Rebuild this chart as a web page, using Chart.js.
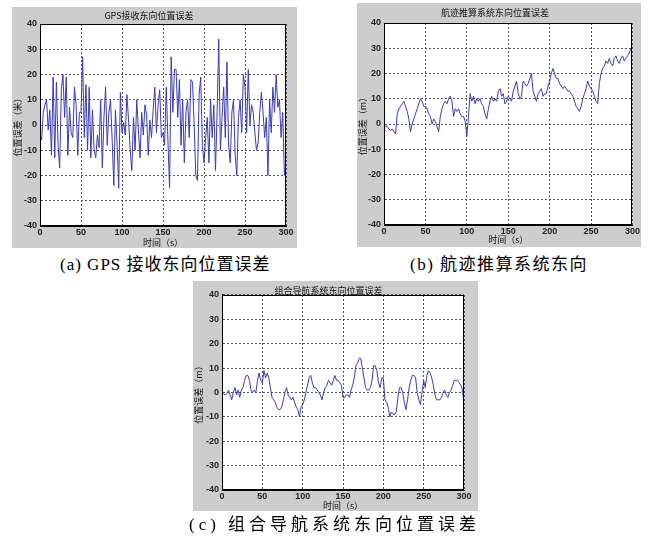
<!DOCTYPE html>
<html>
<head>
<meta charset="utf-8">
<script src="https://cdn.jsdelivr.net/npm/chart.js@4.4.0/dist/chart.umd.min.js"></script>
<style>
  body { margin: 0; background: #fff; width: 656px; height: 537px; position: relative; overflow: hidden; }
  .panel { position: absolute; background: #cdcdcd; }
  .panel canvas { position: absolute; left: 0; top: 0; }
  .cap { position: absolute; font-family: "Liberation Serif", "Noto Sans CJK SC", serif; font-size: 17px; color: #000; white-space: nowrap; }
</style>
</head>
<body>
<div class="panel" style="left:12px;top:7px;width:285px;height:241px"><canvas id="chartA" width="285" height="241"></canvas></div>
<div class="panel" style="left:357px;top:3px;width:284px;height:244px"><canvas id="chartB" width="284" height="244"></canvas></div>
<div class="panel" style="left:193px;top:281px;width:285px;height:230px"><canvas id="chartC" width="285" height="230"></canvas></div>
<div class="cap" style="left:60px;top:250px;letter-spacing:1px">(a) GPS 接收东向位置误差</div>
<div class="cap" style="left:410px;top:250px;letter-spacing:1.5px">(b) 航迹推算系统东向</div>
<div class="cap" style="left:189px;top:510px;letter-spacing:4px">(c) 组合导航系统东向位置误差</div>

<script>
// sample times (s)
const timeSec = [0, 2, 4, 6, 8, 10, 12, 14, 16, 18, 20, 22, 24, 26, 28, 30, 32, 34, 36, 38, 40, 42, 44, 46, 48,
  50, 52, 54, 56, 58, 60, 62, 64, 66, 68, 70, 72, 74, 76, 78, 80, 82, 84, 86, 88, 90, 92, 94, 96, 98,
  100, 102, 104, 106, 108, 110, 112, 114, 116, 118, 120, 122, 124, 126, 128, 130, 132, 134, 136, 138, 140, 142, 144, 146, 148,
  150, 152, 154, 156, 158, 160, 162, 164, 166, 168, 170, 172, 174, 176, 178, 180, 182, 184, 186, 188, 190, 192, 194, 196, 198,
  200, 202, 204, 206, 208, 210, 212, 214, 216, 218, 220, 222, 224, 226, 228, 230, 232, 234, 236, 238, 240, 242, 244, 246, 248,
  250, 252, 254, 256, 258, 260, 262, 264, 266, 268, 270, 272, 274, 276, 278, 280, 282, 284, 286, 288, 290, 292, 294, 296, 298, 300];

// (a) GPS east position error
const gpsErr = [-3, -6, 5, 8, 10, -2, 6, -12, 19, -13, 17, -8, -17, 14, 20, 3, 19, -12, 7, -3, -5, 15, 8, -12, 5,
  5, 27, -5, 16, -10, 15, -13, 6, -10, -13, -4, -9, 10, -17, 3, 15, -8, 5, 10, -6, -24, 6, -8, -25, 13,
  -3, 1, -4, 12, 2, -10, -18, 3, -10, 10, -2, -13, 5, -4, 8, 4, -12, 2, -5, 6, 15, -3, 8, 14, -5,
  -3, -8, 15, -6, -25, 27, 5, 22, 22, 3, 18, -8, 10, -15, 5, 10, -5, 18, 17, 0, -20, -22, 12, 19, -8,
  -15, -5, 3, -15, 10, -5, 8, -18, 5, 34, -10, 3, 15, -5, 25, -8, -15, 5, 10, -12, -20, 3, 10, -3, 20,
  15, -3, 22, 0, 8, 5, -3, -10, -7, 5, 13, 5, -5, 3, -20, 10, -3, 15, 5, 20, 7, 10, -5, 5, -20, -15];

// (b) dead reckoning east position error
const drErr = [0, -1, -1, -2, -2.5, -2, -3, -4, 4, 6, 7, 8, 9, 7, 5, 2, -3, 0, 2, 4, 6, 8, 10, 9, 7,
  7, 6, 4, 3, 0, 2, 1, -1, -3, 3, 6, 8, 9, 8, 10, 11, 9, 3, 6, 5, 6, 4, 3, 3, 1,
  -5, 3, 12, 9, 11, 8, 10, 9, 10, 8, 7, 4, 2, 6, 9, 11, 9, 10, 9, 13, 14, 11, 12, 8, 9,
  11, 10, 9, 13, 15, 17, 12, 10, 11, 17, 16, 15, 16, 18, 20, 13, 11, 9, 12, 13, 14, 11, 12, 12, 15,
  17, 20, 22, 20, 18, 18, 16, 15, 14, 15, 14, 13, 13, 12, 11, 9, 7, 6, 5, 7, 10, 12, 14, 17, 15,
  14, 13, 11, 9, 8, 16, 20, 22, 23, 25, 24, 26, 24, 23, 26, 27, 25, 24, 26, 27, 25, 26, 27, 28, 30, 31];

// (c) integrated navigation east position error
const intErr = [-1, -0.5, -1, -0.5, 1, -1, -3, 0, 2, -1, 1, -2, 1, 2, 5, 7, 7, 5, 1, 0, 1, 0, 5, 8, 5,
  4, 9, 6, 8, 6, 2, -2, -3, -4, -6, -7, -7, -6, -3, 0, 2, -1, -2, -3, -2, -4, -6, -7, -10, -6,
  -5, -3, 0, 3, 6, 7, 4, 2, 2, 1, 0, -1, -3, 0, 2, 3, 5, 4, 3, 5, 7, 5, 5, 4, 3,
  -2, -2, -1, -1, -2, 1, 3, 6, 11, 12, 14, 14, 10, 6, 2, 1, 1, 2, 5, 11, 11, 9, 4, 2, 6,
  6, -3, -4, -6, -10, -8, -9, -9, -8, -2, 2, 2, 0, -4, -7, -3, 2, 5, 7, 7, 6, 0, -3, -5, 0,
  5, 2, 7, 9, 8, 6, 3, -1, -3, -3, -3, -2, 0, 1, -1, -2, 0, 1, 3, 5, 5, 5, 4, 3, 1, -4];

const lineColor = '#3b3bb4';
const gridColor = '#555';

// white plot area + solid black frame, like the matlab axes box
const axesBox = {
  id: 'axesBox',
  beforeDraw(chart) {
    const { ctx, chartArea: a } = chart;
    ctx.save();
    ctx.fillStyle = '#fff';
    ctx.fillRect(a.left, a.top, a.width, a.height);
    ctx.restore();
  },
  afterDraw(chart) {
    const { ctx, chartArea: a } = chart;
    ctx.save();
    ctx.strokeStyle = '#000';
    ctx.lineWidth = 1;
    ctx.strokeRect(Math.round(a.left) + 0.5, Math.round(a.top) + 0.5, Math.round(a.width) - 1, Math.round(a.height) - 1);
    ctx.restore();
  }
};

function makeChart(id, title, yTitle, values, m) {
  const tickFont = { family: 'Liberation Sans', size: 9, weight: 'bold' };
  return new Chart(document.getElementById(id), {
    type: 'line',
    data: {
      datasets: [{
        data: timeSec.map((t, i) => ({ x: t, y: values[i] })),
        borderColor: lineColor,
        borderWidth: 1,
        pointRadius: 0,
        tension: 0
      }]
    },
    options: {
      responsive: false,
      animation: false,
      layout: { padding: { top: 0, right: m.right, left: 0, bottom: 0 } },
      plugins: {
        legend: { display: false },
        tooltip: { enabled: false },
        title: {
          display: true,
          text: title,
          color: '#111',
          font: { family: 'Noto Sans CJK SC', size: 9, weight: 'normal', lineHeight: 1.2 },
          padding: { top: m.titleY - 5.4, bottom: m.top - m.titleY - 5.4 }
        }
      },
      scales: {
        x: {
          type: 'linear', min: 0, max: 300,
          ticks: { stepSize: 50, color: '#222', font: tickFont, padding: 1, maxRotation: 0 },
          grid: { color: gridColor, drawTicks: false },
          border: { color: '#000', dash: [2, 2] },
          title: { display: true, text: '时间（s）', color: '#111', font: { family: 'Noto Sans CJK SC', size: 9 }, padding: { top: 0, bottom: m.xTitlePad } },
          afterFit: s => { s.height = m.bottom; }
        },
        y: {
          min: -40, max: 40,
          ticks: { stepSize: 10, color: '#222', font: tickFont, padding: 3 },
          grid: { color: gridColor, drawTicks: false },
          border: { color: '#000', dash: [2, 2] },
          title: { display: true, text: yTitle, color: '#111', font: { family: 'Noto Sans CJK SC', size: 9 }, padding: 0 },
          afterFit: s => { s.width = m.left; }
        }
      }
    },
    plugins: [axesBox]
  });
}

makeChart('chartA', 'GPS接收东向位置误差', '位置误差（米）', gpsErr,
  { left: 28, right: 11, top: 17, bottom: 22, titleY: 9, xTitlePad: 0 });
makeChart('chartB', '航迹推算系统东向位置误差', '位置误差（m）', drErr,
  { left: 27, right: 8, top: 20, bottom: 22, titleY: 10, xTitlePad: 1.6 });
makeChart('chartC', '组合导航系统东向位置误差', '位置误差（m）', intErr,
  { left: 29, right: 14, top: 14, bottom: 21, titleY: 9.5, xTitlePad: 0 });
</script>
</body>
</html>
